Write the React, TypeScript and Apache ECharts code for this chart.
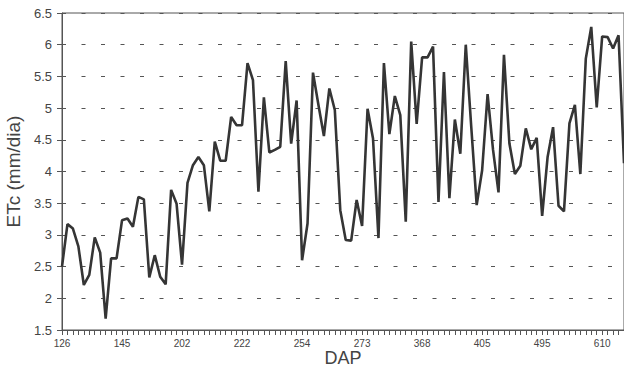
import React, { useEffect, useRef } from "react";
import * as echarts from "echarts";

const dapLabels = ["126", "145", "202", "222", "254", "273", "368", "405", "495", "610"];

const etcValues = [
  2.5, 3.17, 3.1, 2.82, 2.21, 2.37, 2.96, 2.72, 1.68, 2.63,
  2.63, 3.23, 3.26, 3.13, 3.6, 3.56, 2.33, 2.68, 2.34, 2.22,
  3.71, 3.49, 2.53, 3.82, 4.1, 4.23, 4.1, 3.37, 4.47, 4.17,
  4.17, 4.86, 4.73, 4.73, 5.71, 5.44, 3.68, 5.17, 4.3, 4.34,
  4.39, 5.74, 4.44, 5.12, 2.6, 3.18, 5.56, 5.05, 4.56, 5.31,
  4.97, 3.39, 2.92, 2.91, 3.55, 3.14, 4.99, 4.52, 2.95, 5.71,
  4.59, 5.19, 4.89, 3.21, 6.05, 4.75, 5.8, 5.8, 5.97, 3.52,
  5.57, 3.58, 4.82, 4.28, 6.0, 4.71, 3.47, 4.02, 5.22, 4.34,
  3.67, 5.84, 4.44, 3.96, 4.09, 4.68, 4.35, 4.53, 3.3, 4.23,
  4.7, 3.46, 3.37, 4.76, 5.05, 3.96, 5.78, 6.28, 5.01, 6.13,
  6.12, 5.94, 6.15, 4.13,
];

const labelEvery = 11;
const categories = etcValues.map((_, i) =>
  i % labelEvery === 0 && i / labelEvery < dapLabels.length ? dapLabels[i / labelEvery] : ""
);

export default function App() {
  const ref = useRef<HTMLDivElement>(null);
  useEffect(() => {
    document.body.style.margin = "0";
    if (!ref.current) return;
    const chart = echarts.init(ref.current, null, { renderer: "svg" });
    const textColor = "#444";
    chart.setOption({
      animation: false,
      backgroundColor: "#fff",
      textStyle: { fontFamily: "Liberation Sans, Arial, sans-serif" },
      grid: {
        left: 62, right: 0, top: 13, bottom: 40,
        outerBoundsMode: "none", containLabel: false,
        show: true, borderColor: "#555", borderWidth: 1,
      },
      graphic: [
        {
          type: "text",
          x: 343,
          y: 358,
          style: {
            text: "DAP",
            fontSize: 18,
            fontFamily: "Liberation Sans, Arial, sans-serif",
            fill: textColor,
            align: "center",
            verticalAlign: "middle",
          },
        },
      ],
      xAxis: {
        type: "category",
        data: categories,
        boundaryGap: false,
        axisLine: { show: true, lineStyle: { color: "#555", width: 1 } },
        axisTick: { show: true, interval: 0, length: 5, lineStyle: { color: "#555" } },
        axisLabel: { interval: labelEvery - 1, fontSize: 10, color: textColor, margin: 8 },
        splitLine: { show: false },
      },
      yAxis: {
        type: "value",
        min: 1.5,
        max: 6.5,
        interval: 0.5,
        name: "ETc (mm/dia)",
        nameLocation: "middle",
        nameGap: 37,
        nameTextStyle: { fontSize: 19, color: textColor },
        axisLine: { show: true, lineStyle: { color: "#555", width: 1 } },
        axisTick: { show: true, length: 5, lineStyle: { color: "#555" } },
        axisLabel: { fontSize: 13, color: textColor, margin: 10 },
        splitLine: { show: true, lineStyle: { color: "#555", width: 1, type: [4, 15.5] } },
      },
      series: [
        {
          type: "line",
          data: etcValues,
          symbol: "none",
          lineStyle: { color: "#353535", width: 2.6 },
        },
      ],
    });
    return () => chart.dispose();
  }, []);
  return <div ref={ref} style={{ width: 624, height: 370 }} />;
}
